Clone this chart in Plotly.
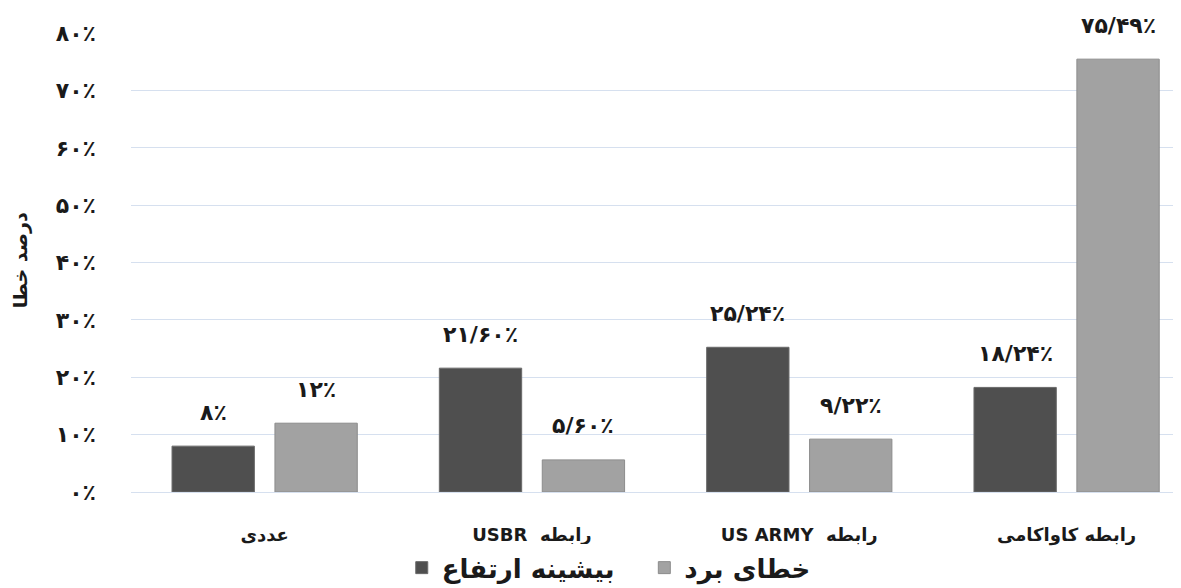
import plotly.graph_objects as go

categories = ["عددی", "USBR  رابطه", "US ARMY  رابطه", "رابطه کاواکامی"]
series_names = ["بیشینه ارتفاع", "خطای برد"]
max_height = [8, 21.6, 25.24, 18.24]
range_error = [12, 5.6, 9.22, 75.49]
max_height_labels = ["۸٪", "۲۱/۶۰٪", "۲۵/۲۴٪", "۱۸/۲۴٪"]
range_error_labels = ["۱۲٪", "۵/۶۰٪", "۹/۲۲٪", "۷۵/۴۹٪"]
y_tick_values = [0, 10, 20, 30, 40, 50, 60, 70, 80]
y_tick_labels = ["۰٪", "۱۰٪", "۲۰٪", "۳۰٪", "۴۰٪", "۵۰٪", "۶۰٪", "۷۰٪", "۸۰٪"]
y_title = "درصد خطا"

FONT = "DejaVu Sans"
TXT = "#1a1a1a"
dark = "#4f4f4f"
light = "#a2a2a2"

fig = go.Figure()
fig.add_trace(go.Bar(x=categories, y=max_height,
                     name="<b>%s</b>\u00a0\u00a0\u00a0" % series_names[0],
                     marker=dict(color=dark, line=dict(color="#6a6a6a", width=1))))
fig.add_trace(go.Bar(x=categories, y=range_error, name="<b>%s</b>" % series_names[1],
                     marker=dict(color=light, line=dict(color="#8c8c8c", width=1))))

annotations = []
for series, labels, shift in [(max_height, max_height_labels, -51.5),
                              (range_error, range_error_labels, 51.5)]:
    for c, v, t in zip(categories, series, labels):
        annotations.append(dict(x=c, y=v, text="<b>%s</b>" % t, showarrow=False,
                                xshift=shift, yshift=34, yanchor="middle",
                                font=dict(family=FONT, size=22, color=TXT)))
annotations.append(dict(xref="paper", yref="paper", x=-0.1057, y=0.505,
                        xanchor="center", yanchor="middle", textangle=-90,
                        text="<b>%s</b>" % y_title, showarrow=False,
                        font=dict(family=FONT, size=19, color=TXT)))

fig.update_layout(
    width=1173, height=580,
    margin=dict(l=123, r=0, t=25, b=96, autoexpand=False),
    paper_bgcolor="white", plot_bgcolor="white",
    barmode="group", bargap=0.23, bargroupgap=0.2,
    font=dict(family=FONT, color=TXT),
    annotations=annotations,
    legend=dict(orientation="h", x=0.455, xanchor="center", y=-0.165, yanchor="middle",
                font=dict(family=FONT, size=26, color=TXT),
                itemwidth=30, tracegroupgap=0),
    showlegend=True,
)
fig.update_xaxes(range=[-0.5, 3.428], showgrid=False, showline=False, zeroline=False,
                 automargin=False, ticks="",
                 tickfont=dict(family=FONT, size=18, color=TXT, weight="bold"),
                 ticklabelstandoff=30)
fig.update_yaxes(range=[0, 80.05], tickvals=y_tick_values, ticktext=y_tick_labels,
                 showgrid=True, gridcolor="#d6e0ef", gridwidth=1, zeroline=True,
                 zerolinecolor="#d6e0ef", zerolinewidth=1, showline=False, ticks="",
                 automargin=False,
                 tickfont=dict(family=FONT, size=22, color=TXT, weight="bold"),
                 ticklabelstandoff=34)
fig.update_traces(cliponaxis=False)

fig.write_html("out.html")
